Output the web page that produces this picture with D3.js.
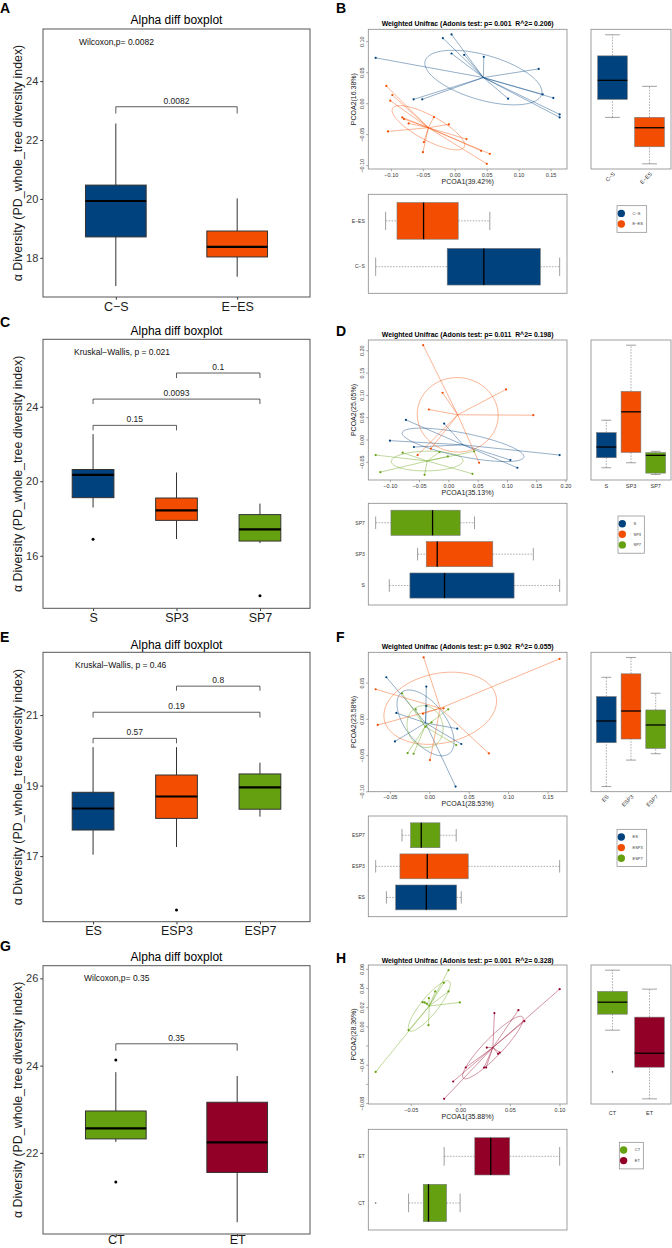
<!DOCTYPE html>
<html><head><meta charset="utf-8">
<script src="https://cdn.jsdelivr.net/npm/d3@7"></script>
<style>
body{margin:0;background:#fff}
svg{display:block}
text{font-family:"Liberation Sans",Arial,Helvetica,sans-serif}
</style>
</head><body>
<svg id="c" width="672" height="1248"></svg>
<script>
// ---------------- colours ----------------
const BLUE = "#00427e", ORANGE = "#f24d00", GREEN = "#65a011", RED = "#930027";

// ---------------- alpha diversity boxplots (five numbers: low whisker, Q1, median, Q3, high whisker) ----------------
const yTitleAlpha = "α Diversity (PD_whole_tree diversity index)";
const titleAlpha = "Alpha diff boxplot";

const catsA = ["C−S", "E−ES"];
const statsA = [[17.04, 18.71, 19.93, 20.47, 22.56], [17.36, 18.03, 18.37, 18.91, 20.02]];
const outliersA = [[], []];
const ticksA = [18, 20, 22, 24];
const domainA = [16.67, 25.77];
const bracketsA = [[0, 1, 23.13, 22.9, "0.0082"]];
const testA = "Wilcoxon,p= 0.0082";

const catsC = ["S", "SP3", "SP7"];
const statsC = [[18.59, 19.12, 20.34, 20.63, 22.53], [16.9, 17.9, 18.44, 19.1, 20.47], [16.68, 16.79, 17.42, 18.21, 18.8]];
const outliersC = [[16.89], [], [13.85]];
const ticksC = [16, 20, 24];
const domainC = [13.18, 27.62];
const bracketsC = [[1, 2, 25.81, 25.54, "0.1"], [0, 2, 24.41, 24.15, "0.0093"], [0, 1, 23.0, 22.73, "0.15"]];
const testC = "Kruskal−Wallis, p = 0.021";

const catsE = ["ES", "ESP3", "ESP7"];
const statsE = [[17.04, 17.74, 18.35, 18.81, 20.09], [17.26, 18.07, 18.69, 19.3, 20.09], [18.12, 18.33, 18.95, 19.33, 19.65]];
const outliersE = [[], [15.47], []];
const ticksE = [17, 19, 21];
const domainE = [15.14, 22.78];
const bracketsE = [[1, 2, 21.82, 21.69, "0.8"], [0, 2, 21.08, 20.93, "0.19"], [0, 1, 20.34, 20.2, "0.57"]];
const testE = "Kruskal−Wallis, p = 0.46";

const catsG = ["CT", "ET"];
const statsG = [[22.25, 22.32, 22.56, 22.96, 23.85], [20.41, 21.55, 22.24, 23.16, 23.76]];
const outliersG = [[24.13, 21.33], []];
const ticksG = [22, 24, 26];
const domainG = [20.14, 26.29];
const bracketsG = [[0, 1, 24.5, 24.34, "0.35"]];
const testG = "Wilcoxon,p= 0.35";

// ---------------- PCoA panels ----------------
const groupsB = ["C−S", "E−ES"];
const pc1B = [[-0.1245, -0.0193, -0.0057, -0.0057, 0.0141, 0.0448, 0.1307, -0.0651, -0.0516, 0.0828, 0.1370, 0.1536, 0.1635, 0.1635],
              [-0.1078, -0.0984, -0.1016, -0.0828, -0.0802, -0.0729, -0.1052, -0.0333, -0.0099, 0.0177, -0.0490, -0.0505, 0.0406, 0.0542, 0.0495]];
const pc2B = [[0.0739, 0.1057, 0.1116, 0.0809, 0.0787, 0.0755, 0.0561, 0.0070, 0.0070, 0.0081, 0.0151, 0.0092, -0.0173, -0.0221],
              [0.0286, 0.0140, 0.0049, -0.0221, -0.0248, -0.0318, -0.0447, -0.0216, -0.0334, -0.0571, -0.0620, -0.0782, -0.0760, -0.0809, -0.0970]];
const sideB = [[-0.0221, 0.0070, 0.0377, 0.0771, 0.1111], [-0.0970, -0.0695, -0.0388, -0.0221, 0.0280]];
const bottomB = [[-0.1245, -0.0125, 0.0448, 0.1333, 0.1635], [-0.1089, -0.0911, -0.0495, 0.0047, 0.0542]];
const xTicksB = [-0.10, -0.05, 0.00, 0.05, 0.10, 0.15];
const yTicksB = [-0.10, -0.05, 0.00, 0.05, 0.10];
const titleB = "Weighted Unifrac (Adonis test: p= 0.001  R^2= 0.206)";
const axesB = ["PCOA1(39.42%)", "PCOA2(16.38%)"];

const groupsD = ["S", "SP3", "SP7"];
const pc1D = [[-0.0733, -0.0080, -0.1006, -0.0597, 0.1051, 0.1170, 0.1892],
              [-0.0438, -0.0108, -0.0341, 0.0977, 0.1443, -0.0534, -0.0307, 0.0517],
              [-0.1250, -0.0790, -0.0159, -0.0017, 0.0432, -0.1170, -0.0415, 0.0403]];
const pc2D = [[0.0450, 0.0368, -0.0015, -0.0158, -0.0450, -0.0623, -0.0338],
              [0.2125, 0.1059, 0.0683, 0.1134, 0.0556, -0.0338, -0.0195, -0.0511],
              [-0.0338, -0.0285, -0.0270, -0.0368, -0.0255, -0.0721, -0.0781, -0.0758]];
const sideD = [[-0.0623, -0.0398, -0.0158, 0.0165, 0.0443], [-0.0511, -0.0278, 0.0631, 0.1089, 0.2125], [-0.0773, -0.0743, -0.0345, -0.0285, -0.0255]];
const bottomD = [[-0.1017, -0.0665, -0.0074, 0.1114, 0.1892], [-0.0534, -0.0386, -0.0199, 0.0750, 0.1443], [-0.1250, -0.0989, -0.0278, 0.0193, 0.0438]];
const xTicksD = [-0.10, -0.05, 0.00, 0.05, 0.10, 0.15, 0.20];
const yTicksD = [-0.05, 0.00, 0.05, 0.10, 0.15, 0.20];
const titleD = "Weighted Unifrac (Adonis test: p= 0.011  R^2= 0.198)";
const axesD = ["PCOA1(35.13%)", "PCOA2(25.05%)"];

const groupsF = ["ES", "ESP3", "ESP7"];
const pc1F = [[-0.0551, -0.0044, -0.0044, -0.0424, -0.0441, 0.0348, 0.0399, 0.0327],
              [-0.0078, 0.1646, -0.0686, -0.0660, 0.0175, 0.0749, 0.0002, -0.0086],
              [-0.0352, -0.0179, 0.0234, 0.0023, -0.0053, -0.0281, -0.0205, 0.0335]];
const pc2F = [[0.0581, 0.0452, 0.0185, 0.0088, -0.0305, -0.0129, -0.0341, -0.0928],
              [0.0854, 0.0835, 0.0415, -0.0078, 0.0152, -0.0471, -0.0563, 0.0078],
              [0.0360, 0.0138, 0.0138, -0.0042, -0.0102, -0.0466, -0.0475, -0.0355]];
const sideF = [[-0.0928, -0.0323, -0.0023, 0.0314, 0.0580], [-0.0563, -0.0272, 0.0115, 0.0628, 0.0854], [-0.0475, -0.0401, -0.0078, 0.0129, 0.0360]];
const bottomF = [[-0.0550, -0.0432, -0.0044, 0.0340, 0.0399], [-0.0686, -0.0378, -0.0032, 0.0487, 0.1646], [-0.0352, -0.0243, -0.0108, 0.0129, 0.0335]];
const xTicksF = [-0.05, 0.00, 0.05, 0.10, 0.15];
const yTicksF = [-0.10, -0.05, 0.00, 0.05];
const titleF = "Weighted Unifrac (Adonis test: p= 0.902  R^2= 0.055)";
const axesF = ["PCOA1(28.53%)", "PCOA2(23.58%)"];

const groupsH = ["CT", "ET"];
const pc1H = [[-0.0124, -0.0171, -0.0258, -0.0124, -0.0322, -0.0386, -0.0366, -0.0342, -0.0010, -0.0326, -0.0527, -0.0859],
              [0.0997, 0.0581, 0.0641, 0.0339, 0.0262, 0.0376, 0.0393, 0.0050, 0.0235, 0.0255, -0.0077, -0.0168]];
const pc2H = [[0.0591, 0.0459, 0.0369, 0.0369, 0.0299, 0.0257, 0.0254, 0.0243, 0.0254, 0.0017, -0.0035, -0.0470],
              [0.0393, 0.0174, 0.0059, 0.0143, -0.0216, -0.0282, -0.0268, -0.0424, -0.0424, -0.0424, -0.0570, -0.0751]];
const sideH = [[-0.0035, 0.0132, 0.0257, 0.0369, 0.0591], [-0.0751, -0.0421, -0.0275, 0.0101, 0.0393]];
const sideOutH = [[-0.0470], []];
const bottomH = [[-0.0527, -0.0379, -0.0326, -0.0144, -0.0007], [-0.0168, 0.0141, 0.0302, 0.0493, 0.0997]];
const bottomOutH = [[-0.0859], []];
const xTicksH = [-0.05, 0.00, 0.05, 0.10];
const yTicksH = [-0.08, -0.06, -0.04, -0.02, 0.00, 0.02, 0.04, 0.06];
const yTickLabelsHiddenH = [-0.06, -0.02];
const titleH = "Weighted Unifrac (Adonis test: p= 0.001  R^2= 0.328)";
const axesH = ["PCOA1(35.88%)", "PCOA2(28.36%)"];

// ---------------- drawing ----------------
const FONT = "'Liberation Sans', Arial, Helvetica, sans-serif";
const svg = d3.select("#c");
svg.append("rect").attr("width", 672).attr("height", 1248).attr("fill", "#fff");

function alphaPanel(c) {
  const L = 43, R = 310;
  const n = c.cats.length;
  const x = d3.scaleLinear().domain([0.4, n + 0.6]).range([L, R]);
  const y = d3.scaleLinear().domain(c.domain).range([c.bottom, c.top]);
  const g = svg.append("g");
  g.append("text").attr("x", 0).attr("y", c.letterY).attr("font-size", 14).attr("font-weight", "bold").text(c.letter);
  g.append("text").attr("x", (L + R) / 2).attr("y", c.titleY).attr("text-anchor", "middle").attr("font-size", 12).text(titleAlpha);

  const ay = g.append("g").attr("transform", `translate(${L},0)`)
    .call(d3.axisLeft(y).tickValues(c.ticks).tickSize(2.7).tickPadding(2).tickFormat(d3.format("d")));
  ay.select(".domain").remove();
  ay.attr("font-family", FONT).attr("font-size", 11);
  ay.selectAll(".tick line").attr("stroke", "#333");
  ay.selectAll(".tick text").attr("fill", "#333");

  const ax = g.append("g").attr("transform", `translate(0,${c.bottom})`)
    .call(d3.axisBottom(x).tickValues(d3.range(1, n + 1)).tickSize(2.7).tickPadding(c.xPad).tickFormat(i => c.cats[i - 1]));
  ax.select(".domain").remove();
  ax.attr("font-family", FONT).attr("font-size", 12.5);
  ax.selectAll(".tick line").attr("stroke", "#333");
  ax.selectAll(".tick text").attr("fill", "#1a1a1a");

  g.append("text").attr("transform", `translate(22,${(c.top + c.bottom) / 2}) rotate(-90)`)
    .attr("text-anchor", "middle").attr("font-size", 12.4).attr("fill", "#1a1a1a").text(yTitleAlpha);

  const hw = x(1.25) - x(1);
  c.stats.forEach((s, i) => {
    const cx = x(i + 1);
    g.append("line").attr("x1", cx).attr("x2", cx).attr("y1", y(s[0])).attr("y2", y(s[4]))
      .attr("stroke", "#333").attr("stroke-width", 1);
    g.append("rect").attr("x", cx - hw).attr("width", 2 * hw).attr("y", y(s[3])).attr("height", y(s[1]) - y(s[3]))
      .attr("fill", c.colors[i]).attr("stroke", "#333").attr("stroke-width", 1);
    g.append("line").attr("x1", cx - hw).attr("x2", cx + hw).attr("y1", y(s[2])).attr("y2", y(s[2]))
      .attr("stroke", "#000").attr("stroke-width", 2.2);
    c.outs[i].forEach(v => g.append("circle").attr("cx", cx).attr("cy", y(v)).attr("r", 1.5).attr("fill", "#000"));
  });

  c.brackets.forEach(([a, b, yb, tip, lab]) => {
    const x1 = x(a + 1), x2 = x(b + 1);
    g.append("path").attr("d", `M${x1},${y(tip)}V${y(yb)}H${x2}V${y(tip)}`)
      .attr("fill", "none").attr("stroke", "#333").attr("stroke-width", 0.8);
    g.append("text").attr("x", (x1 + x2) / 2).attr("y", y(yb) - 3).attr("text-anchor", "middle")
      .attr("font-size", 8.5).attr("fill", "#222").text(lab);
  });

  g.append("text").attr("x", c.testX).attr("y", c.top + 15.5).attr("font-size", 8.5).attr("fill", "#111")
    .style("white-space", "pre").text(c.test);

  g.append("rect").attr("x", L).attr("y", c.top).attr("width", R - L).attr("height", c.bottom - c.top)
    .attr("fill", "none").attr("stroke", "#555").attr("stroke-width", 1);
}

function padExt(arr) {
  const e = d3.extent(arr), d = (e[1] - e[0]) * 0.04;
  return [e[0] - d, e[1] + d];
}

function rBox(g, st, pos, hw, vs, col, horiz) {
  const P = (v, o) => horiz ? [vs(v), pos + o] : [pos + o, vs(v)];
  const line = (a, b, dash, colr, w) => {
    g.append("line").attr("x1", a[0]).attr("y1", a[1]).attr("x2", b[0]).attr("y2", b[1])
      .attr("stroke", colr).attr("stroke-width", w).attr("stroke-dasharray", dash);
  };
  line(P(st[0], 0), P(st[1], 0), "1.6,1.3", "#777", 0.6);
  line(P(st[3], 0), P(st[4], 0), "1.6,1.3", "#777", 0.6);
  line(P(st[0], -hw / 2), P(st[0], hw / 2), null, "#777", 0.7);
  line(P(st[4], -hw / 2), P(st[4], hw / 2), null, "#777", 0.7);
  const a = P(st[1], -hw), b = P(st[3], hw);
  g.append("rect").attr("x", Math.min(a[0], b[0])).attr("y", Math.min(a[1], b[1]))
    .attr("width", Math.abs(b[0] - a[0])).attr("height", Math.abs(b[1] - a[1]))
    .attr("fill", col).attr("stroke", "#777").attr("stroke-width", 0.6);
  line(P(st[2], -hw), P(st[2], hw), null, "#000", 1.3);
}

function pcoaPanel(c) {
  const SL = 368.3, SR = 567, RL = 591, RR = 671;
  const n = c.groups.length;
  const g = svg.append("g");
  const x = d3.scaleLinear().domain(padExt(c.pc1.flat())).range([SL, SR]);
  const y = d3.scaleLinear().domain(padExt(c.pc2.flat())).range([c.sBot, c.sTop]);
  const gp = [0.5 - 0.04 * n, n + 0.5 + 0.04 * n];
  const sx = d3.scaleLinear().domain(gp).range([RL, RR]);
  const by = d3.scaleLinear().domain(gp).range([c.bBot, c.bTop]);
  const fmt = d3.format(".2f");

  g.append("text").attr("x", 336).attr("y", c.letterY).attr("font-size", 14).attr("font-weight", "bold").text(c.letter);
  g.append("text").attr("x", (SL + SR) / 2).attr("y", c.titleY).attr("text-anchor", "middle")
    .attr("font-size", 6.9).attr("font-weight", "bold").style("white-space", "pre").text(c.title);

  c.groups.forEach((grp, i) => {
    const xs = c.pc1[i], ys = c.pc2[i], col = c.colors[i];
    const mx = d3.mean(xs), my = d3.mean(ys);
    const sxx = d3.mean(xs, v => (v - mx) ** 2), syy = d3.mean(ys, v => (v - my) ** 2);
    const sxy = d3.mean(xs.map((v, k) => (v - mx) * (ys[k] - my)));
    const th = 0.5 * Math.atan2(2 * sxy, sxx - syy), ct = Math.cos(th), sn = Math.sin(th);
    const l1 = sxx * ct * ct + 2 * sxy * sn * ct + syy * sn * sn;
    const l2 = sxx * sn * sn - 2 * sxy * sn * ct + syy * ct * ct;
    const a = Math.sqrt(Math.max(l1, 0)), b = Math.sqrt(Math.max(l2, 0));
    const pts = d3.range(0, 120).map(k => {
      const t = k / 120 * 2 * Math.PI;
      const dx = a * Math.cos(t) * ct - b * Math.sin(t) * sn;
      const dy = a * Math.cos(t) * sn + b * Math.sin(t) * ct;
      return [x(mx + dx), y(my + dy)];
    });
    g.append("path").attr("d", d3.line().curve(d3.curveLinearClosed)(pts))
      .attr("fill", "none").attr("stroke", col).attr("stroke-opacity", 0.6).attr("stroke-width", 0.7);
    xs.forEach((v, k) => {
      g.append("line").attr("x1", x(mx)).attr("y1", y(my)).attr("x2", x(v)).attr("y2", y(ys[k]))
        .attr("stroke", col).attr("stroke-opacity", 0.6).attr("stroke-width", 0.7);
    });
    xs.forEach((v, k) => {
      g.append("circle").attr("cx", x(v)).attr("cy", y(ys[k])).attr("r", 1.1).attr("fill", col);
    });
  });

  c.xTicks.forEach(v => {
    g.append("line").attr("x1", x(v)).attr("x2", x(v)).attr("y1", c.sBot).attr("y2", c.sBot + 2.2).attr("stroke", "#555").attr("stroke-width", 0.5);
    g.append("text").attr("x", x(v)).attr("y", c.sBot + 7.5).attr("text-anchor", "middle").attr("font-size", 5.5).attr("fill", "#333").text(fmt(v));
  });
  c.yTicks.forEach(v => {
    g.append("line").attr("x1", SL).attr("x2", SL - 2.2).attr("y1", y(v)).attr("y2", y(v)).attr("stroke", "#555").attr("stroke-width", 0.5);
    if (!(c.yHidden || []).some(h => Math.abs(h - v) < 1e-9)) {
      g.append("text").attr("transform", `translate(${SL - 4},${y(v)}) rotate(-90)`).attr("text-anchor", "middle")
        .attr("font-size", 5.5).attr("fill", "#333").text(fmt(v));
    }
  });
  g.append("text").attr("x", (SL + SR) / 2).attr("y", c.sBot + 14.5).attr("text-anchor", "middle").attr("font-size", 7).attr("fill", "#222").text(c.axes[0]);
  g.append("text").attr("transform", `translate(355.5,${(c.sTop + c.sBot) / 2}) rotate(-90)`).attr("text-anchor", "middle")
    .attr("font-size", 7).attr("fill", "#222").text(c.axes[1]);
  g.append("rect").attr("x", SL).attr("y", c.sTop).attr("width", SR - SL).attr("height", c.sBot - c.sTop)
    .attr("fill", "none").attr("stroke", "#888").attr("stroke-width", 0.8);

  const hwS = (sx(1.4) - sx(1));
  c.side.forEach((st, i) => {
    rBox(g, st, sx(i + 1), hwS, y, c.colors[i], false);
    (c.sideOut ? c.sideOut[i] : []).forEach(v => g.append("circle").attr("cx", sx(i + 1)).attr("cy", y(v)).attr("r", 0.8).attr("fill", "#555"));
    if (c.rotate) {
      g.append("text").attr("transform", `translate(${sx(i + 1) + 1.5},${c.sBot + 4}) rotate(-45)`).attr("text-anchor", "end")
        .attr("dy", "0.35em").attr("font-size", 5.5).attr("fill", "#333").text(c.groups[i]);
    } else {
      g.append("text").attr("x", sx(i + 1)).attr("y", c.sBot + c.labDy).attr("text-anchor", "middle")
        .attr("font-size", 5.5).attr("fill", "#333").text(c.groups[i]);
    }
  });
  g.append("rect").attr("x", RL).attr("y", c.sTop).attr("width", RR - RL).attr("height", c.sBot - c.sTop)
    .attr("fill", "none").attr("stroke", "#888").attr("stroke-width", 0.8);

  const hwB = Math.abs(by(1.4) - by(1));
  c.bottom.forEach((st, i) => {
    rBox(g, st, by(i + 1), hwB, x, c.colors[i], true);
    (c.bottomOut ? c.bottomOut[i] : []).forEach(v => g.append("circle").attr("cx", x(v)).attr("cy", by(i + 1)).attr("r", 0.8).attr("fill", "#555"));
    g.append("text").attr("x", SL - 3.5).attr("y", by(i + 1)).attr("dy", "0.35em").attr("text-anchor", "end")
      .attr("font-size", 5).attr("fill", "#333").text(c.groups[i]);
  });
  g.append("rect").attr("x", SL).attr("y", c.bTop).attr("width", SR - SL).attr("height", c.bBot - c.bTop)
    .attr("fill", "none").attr("stroke", "#888").attr("stroke-width", 0.8);

  const [lx, ly, lw] = c.legend;
  g.append("rect").attr("x", lx).attr("y", ly).attr("width", lw).attr("height", n * 10.6 + 5.4)
    .attr("fill", "#fff").attr("stroke", "#888").attr("stroke-width", 0.7);
  c.groups.forEach((grp, i) => {
    const cy = ly + 7.7 + i * 10.6;
    g.append("circle").attr("cx", lx + 4.3).attr("cy", cy).attr("r", 3.7).attr("fill", c.colors[i]);
    g.append("text").attr("x", lx + 15.5).attr("y", cy).attr("dy", "0.35em").attr("font-size", 4).attr("fill", "#333").text(grp);
  });
}

alphaPanel({ letter: "A", cats: catsA, stats: statsA, outs: outliersA, ticks: ticksA, domain: domainA, brackets: bracketsA,
  test: testA, colors: [BLUE, ORANGE], top: 29, bottom: 297, titleY: 24, letterY: 12.5, testX: 79, xPad: 2 });
alphaPanel({ letter: "C", cats: catsC, stats: statsC, outs: outliersC, ticks: ticksC, domain: domainC, brackets: bracketsC,
  test: testC, colors: [BLUE, ORANGE, GREEN], top: 339.3, bottom: 608.3, titleY: 335, letterY: 327, testX: 74, xPad: 2 });
alphaPanel({ letter: "E", cats: catsE, stats: statsE, outs: outliersE, ticks: ticksE, domain: domainE, brackets: bracketsE,
  test: testE, colors: [BLUE, ORANGE, GREEN], top: 652.3, bottom: 921.7, titleY: 648.5, letterY: 642, testX: 75, xPad: 2 });
alphaPanel({ letter: "G", cats: catsG, stats: statsG, outs: outliersG, ticks: ticksG, domain: domainG, brackets: bracketsG,
  test: testG, colors: [GREEN, RED], top: 965.7, bottom: 1234, titleY: 961, letterY: 951, testX: 84, xPad: -1.5 });

pcoaPanel({ letter: "B", groups: groupsB, pc1: pc1B, pc2: pc2B, side: sideB, bottom: bottomB, xTicks: xTicksB, yTicks: yTicksB,
  title: titleB, axes: axesB, colors: [BLUE, ORANGE], letterY: 12.7, titleY: 25.5, sTop: 29.3, sBot: 169, bTop: 194.3, bBot: 293.3,
  legend: [617, 205.7, 29.7], rotate: true });
pcoaPanel({ letter: "D", groups: groupsD, pc1: pc1D, pc2: pc2D, side: sideD, bottom: bottomD, xTicks: xTicksD, yTicks: yTicksD,
  title: titleD, axes: axesD, colors: [BLUE, ORANGE, GREEN], letterY: 336, titleY: 336.5, sTop: 340, sBot: 480, bTop: 503.3, bBot: 605,
  legend: [618, 516, 26.3], rotate: false, labDy: 7.5 });
pcoaPanel({ letter: "F", groups: groupsF, pc1: pc1F, pc2: pc2F, side: sideF, bottom: bottomF, xTicks: xTicksF, yTicks: yTicksF,
  title: titleF, axes: axesF, colors: [BLUE, ORANGE, GREEN], letterY: 641.7, titleY: 649, sTop: 652.3, sBot: 791.7, bTop: 816, bBot: 916.7,
  legend: [617, 829.3, 29.7], rotate: true });
pcoaPanel({ letter: "H", groups: groupsH, pc1: pc1H, pc2: pc2H, side: sideH, sideOut: sideOutH, bottom: bottomH, bottomOut: bottomOutH,
  xTicks: xTicksH, yTicks: yTicksH, yHidden: yTickLabelsHiddenH,
  title: titleH, axes: axesH, colors: [GREEN, RED], letterY: 963, titleY: 963, sTop: 965, sBot: 1104, bTop: 1129.3, bBot: 1230,
  legend: [619.3, 1142.3, 24], rotate: false, labDy: 10.5 });
</script>
</body></html>
